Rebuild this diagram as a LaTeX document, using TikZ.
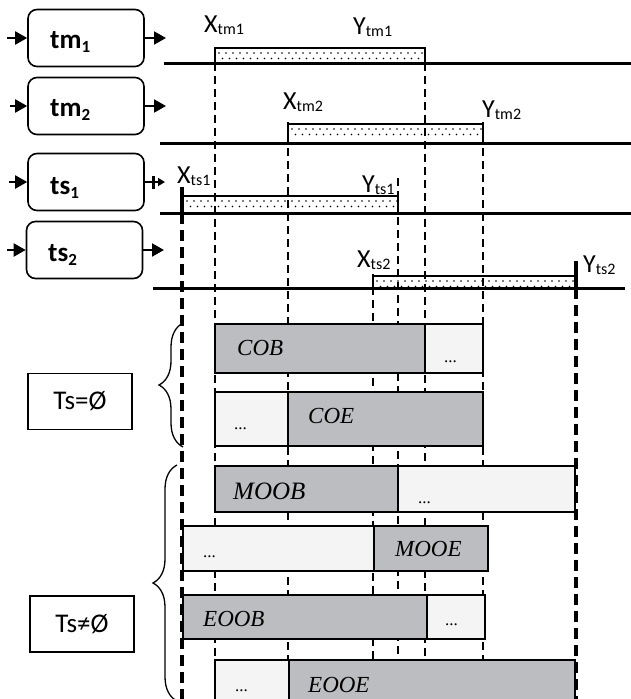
\documentclass[tikz,border=0pt]{standalone}
\usepackage{fontspec}
\setmainfont{Carlito}
\newfontfamily\tnr{Liberation Serif}
\usetikzlibrary{arrows.meta,decorations.pathreplacing}
\definecolor{barg}{HTML}{BCBDC0}
\definecolor{barl}{HTML}{F4F4F4}
\newcommand{\lab}[2]{#1\raisebox{-2pt}{\fontsize{16}{16}\selectfont #2}}
\newcommand{\blab}[2]{\textbf{#1\raisebox{-4pt}{\fontsize{17}{17}\selectfont #2}}}
\newcommand{\bardots}[4]{%
  \begin{scope}
  \clip (#1,#3) rectangle (#2,#4);
  \pgfmathtruncatemacro{\nd}{((#2)-(#1))/7}
  \foreach \i in {0,...,\nd}{
    \fill ({#1+4+7*\i},{#3+5}) circle (0.95pt);
    \fill ({#1+7.5+7*\i},{#3+10.5}) circle (0.95pt);
  }
  \end{scope}}
\begin{document}
\begin{tikzpicture}[x=1pt,y=-1pt,
  proc/.style={draw, line width=1.6pt, rounded corners=9pt, minimum width=116pt, minimum height=57pt, inner sep=0pt},
  timeline/.style={line width=3pt},
  bar/.style={draw, line width=1.5pt, fill=white},
  vdash/.style={line width=1.3pt, dash pattern=on 8pt off 5pt},
  vthick/.style={line width=3.5pt, dash pattern=on 11pt off 6pt},
  flow/.style={line width=2pt, -{Triangle[length=12pt,width=13pt]}},
  tlab/.style={anchor=base west, inner sep=0pt, font=\fontsize{26}{30}\selectfont},
  plab/.style={anchor=base west, inner sep=0pt, font=\fontsize{27}{30}\selectfont},
  gbox/.style={draw, line width=1.5pt, fill=barg},
  lbox/.style={draw, line width=1.5pt, fill=barl},
  itl/.style={anchor=base west, inner sep=0pt, font=\tnr\itshape\fontsize{23}{26}\selectfont},
  dotl/.style={anchor=base west, inner sep=0pt, font=\tnr\fontsize{17}{18}\selectfont},
  cond/.style={draw, line width=1.5pt, minimum width=104pt, minimum height=56pt, inner sep=0pt, font=\fontsize{27}{30}\selectfont},
  brc/.style={decorate, decoration={brace, amplitude=24pt}, line width=1.3pt}
]
\useasboundingbox (0,0) rectangle (631,699);
\clip (0,0) rectangle (631,699);

% process boxes
\node[proc] (tm1) at (86,38) {};
\node[proc] (tm2) at (86,106) {};
\node[proc] (ts1) at (86,182) {};
\node[proc] (ts2) at (84.5,250) {};
\node[plab] (tm1t) at (50,48) {\blab{tm}{1}};
\node[plab] (tm2t) at (50,116) {\blab{tm}{2}};
\node[plab] (ts1t) at (50,194) {\blab{ts}{1}};
\node[plab] (ts2t) at (48,261) {\blab{ts}{2}};

\coordinate (tm1in) at (7,38);
\coordinate (tm2in) at (10,106);
\coordinate (ts1in) at (9,182);
\coordinate (ts2in) at (7,250);
\coordinate (tm1out) at (166,38);
\coordinate (tm2out) at (166,106);
\coordinate (ts1out) at (165,182);
\coordinate (ts2out) at (164,250);
\draw[flow] (tm1in) -- (tm1);
\draw[flow] (tm2in) -- (tm2);
\draw[flow] (ts1in) -- (ts1);
\draw[flow] (ts2in) -- (ts2);
\draw[flow] (tm1) -- (tm1out);
\draw[flow] (tm2) -- (tm2out);
\draw[line width=2pt, -{Triangle[length=7pt,width=8pt]}] (ts1) -- (ts1out);
\draw[line width=3pt] (153,176) -- (153,189);
\draw[flow] (ts2) -- (ts2out);

% bars
\draw[bar] (215,48) rectangle (425,63); \bardots{215}{425}{48}{63}
\draw[bar] (288,124) rectangle (483,143); \bardots{288}{483}{124}{143}
\draw[bar] (183,196) rectangle (398,213); \bardots{183}{398}{196}{213}
\draw[bar] (373,276) rectangle (576,288); \bardots{373}{576}{276}{288}

% timelines
\draw[timeline] (164,63) -- (631,63);
\draw[timeline] (160,143) -- (631,143);
\draw[timeline] (160,213) -- (631,213);
\draw[timeline] (153,288) -- (625,288);

% dashed guides
\draw[vdash] (215,63) -- (215,699);
\draw[vdash] (425,63) -- (425,699);
\draw[vdash] (288,122) -- (288,699);
\draw[vdash] (483,122) -- (483,699);
\draw[vdash] (398,178) -- (398,699);
\draw[vdash] (373,274) -- (373,699);
\draw[vthick] (182,213) -- (182,699);
\draw[vthick] (576,288) -- (576,699);
\draw[line width=3.5pt] (182,187) -- (182,213);
\draw[line width=3.5pt] (576,261) -- (576,288);

% timeline labels
\node[tlab] (xtm1) at (204,32) {\lab{X}{tm1}};
\node[tlab] (ytm1) at (353,34) {\lab{Y}{tm1}};
\node[tlab] (xtm2) at (283,109) {\lab{X}{tm2}};
\node[tlab] (ytm2) at (482,117) {\lab{Y}{tm2}};
\node[tlab] (xts1) at (177,183) {\lab{X}{ts1}};
\node[tlab] (yts1) at (362,192) {\lab{Y}{ts1}};
\node[tlab] (xts2) at (357,267) {\lab{X}{ts2}};
\node[tlab] (yts2) at (583,272) {\lab{Y}{ts2}};

% conditions
\node[cond] (tse) at (80,401.5) {Ts=Ø};
\node[cond] (tsn) at (82,624) {Ts≠Ø};
\draw[brc] (183,447) -- (183,323);
\draw[brc] (177,701) -- (177,465);

% result rows
\draw[gbox] (215,324) rectangle (425,373);
\draw[lbox] (425,324) rectangle (483,373);
\draw[lbox] (215,392) rectangle (288,446);
\draw[gbox] (288,392) rectangle (483,446);
\draw[gbox] (215,466) rectangle (398,512);
\draw[lbox] (398,466) rectangle (575,512);
\draw[lbox] (183,526) rectangle (374,571);
\draw[gbox] (374,526) rectangle (488,571);
\draw[gbox] (183,595) rectangle (427,639);
\draw[lbox] (427,595) rectangle (485,639);
\draw[lbox] (215,660) rectangle (289,712);
\draw[gbox] (289,660) rectangle (575,712);

\node[itl] (cob) at (237,355) {COB};
\node[dotl] (cobd) at (444,362) {...};
\node[dotl] (coed) at (234,429) {...};
\node[itl] (coe) at (308,423) {COE};
\node[itl, font=\tnr\itshape\fontsize{25}{28}\selectfont] (moob) at (233,499) {MOOB};
\node[dotl] (moobd) at (418,503) {...};
\node[dotl] (mooed) at (203,557) {...};
\node[itl] (mooe) at (395,556) {MOOE};
\node[itl] (eoob) at (203,626) {EOOB};
\node[dotl] (eoobd) at (445,625) {...};
\node[dotl] (eooed) at (235,691) {...};
\node[itl] (eooe) at (308,692) {EOOE};
\end{tikzpicture}
\end{document}
